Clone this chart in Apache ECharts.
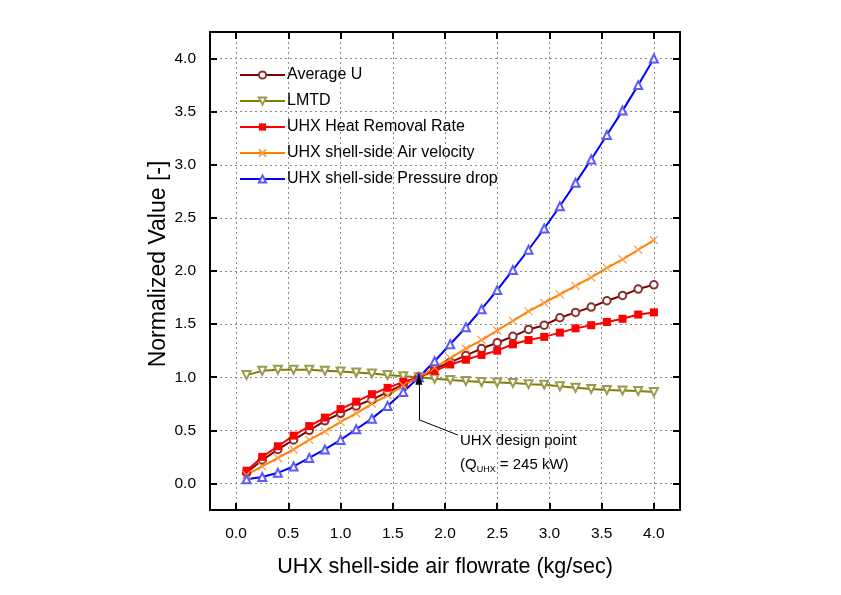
<!DOCTYPE html>
<html>
<head>
<meta charset="utf-8">
<script src="https://cdn.jsdelivr.net/npm/echarts@6/dist/echarts.min.js"></script>
<style>html,body{margin:0;padding:0;background:#fff}#c{width:841px;height:595px}</style>
</head>
<body>
<div id="c"></div>
<script>
const flowrate = [0.1,0.25,0.4,0.55,0.7,0.85,1.0,1.15,1.3,1.45,1.6,1.75,1.9,2.05,2.2,2.35,2.5,2.65,2.8,2.95,3.1,3.25,3.4,3.55,3.7,3.85,4.0];
const averageU = [0.10,0.22,0.32,0.41,0.50,0.59,0.66,0.73,0.79,0.86,0.93,1.0,1.08,1.14,1.205,1.27,1.325,1.385,1.45,1.49,1.56,1.61,1.66,1.72,1.77,1.83,1.87];
const lmtd = [1.02,1.06,1.07,1.07,1.07,1.06,1.055,1.045,1.035,1.02,1.01,1.0,0.985,0.975,0.965,0.955,0.95,0.945,0.935,0.93,0.915,0.90,0.89,0.88,0.875,0.87,0.86];
const heatRemoval = [0.12,0.25,0.35,0.45,0.54,0.62,0.70,0.77,0.84,0.90,0.955,1.0,1.06,1.12,1.165,1.21,1.25,1.31,1.35,1.38,1.42,1.46,1.49,1.52,1.55,1.59,1.61];
const airVelocity = [0.08,0.16,0.24,0.32,0.41,0.49,0.58,0.66,0.75,0.83,0.92,1.0,1.09,1.18,1.27,1.35,1.44,1.53,1.62,1.70,1.78,1.86,1.94,2.03,2.11,2.20,2.29];
const pressureDrop = [0.04,0.06,0.10,0.16,0.24,0.32,0.41,0.51,0.61,0.73,0.86,1.0,1.15,1.31,1.47,1.64,1.82,2.01,2.20,2.40,2.61,2.83,3.05,3.28,3.51,3.75,4.0];
const xTickValues = [0,0.5,1.0,1.5,2.0,2.5,3.0,3.5,4.0];
const yTickValues = [0,0.5,1.0,1.5,2.0,2.5,3.0,3.5,4.0];
const seriesNames = ['Average U','LMTD','UHX Heat Removal Rate','UHX shell-side Air velocity','UHX shell-side Pressure drop'];
const designPoint = [1.75, 1.0];

const FONT = '"Liberation Sans", Arial, sans-serif';
const pairs = ys => flowrate.map((x,i)=>[x, ys[i]]);

const baseX = {type:'value', min:-0.25, max:4.25, interval:0.25};
const baseY = {type:'value', min:-0.25, max:4.25, interval:0.25};
const axLine = {show:true, onZero:false, lineStyle:{color:'#000', width:2}};
const tick = (vals)=>({show:true, inside:true, length:7, lineStyle:{color:'#000', width:2}, customValues:vals});

const chart = echarts.init(document.getElementById('c'), null, {renderer:'canvas'});
chart.setOption({
  animation:false,
  backgroundColor:'#fff',
  grid:{left:210, right:161, top:32, bottom:85, containLabel:false},
  legend:{
    orient:'vertical', left:234, top:62, itemWidth:45, itemHeight:9, itemGap:10,
    textStyle:{fontFamily:FONT, fontSize:16, color:'#000', padding:[0,0,0,-3]},
    data:seriesNames
  },
  xAxis:[
    Object.assign({}, baseX, {
      position:'bottom', axisLine:axLine, axisTick:tick(xTickValues),
      axisLabel:{show:true, customValues:xTickValues, formatter:v=>v.toFixed(1), margin:16, fontFamily:FONT, fontSize:15.5, color:'#000'},
      splitLine:{show:true, lineStyle:{color:'#8a8a8a', type:[2,3], width:1}},
      name:'UHX shell-side air flowrate (kg/sec)', nameLocation:'middle', nameGap:46,
      nameTextStyle:{fontFamily:FONT, fontSize:21.5, color:'#000'}
    }),
    Object.assign({}, baseX, {
      position:'top', axisLine:axLine, axisTick:tick(xTickValues),
      axisLabel:{show:false}, splitLine:{show:false}
    })
  ],
  yAxis:[
    Object.assign({}, baseY, {
      position:'left', axisLine:axLine, axisTick:tick(yTickValues),
      axisLabel:{show:true, customValues:yTickValues, formatter:v=>v.toFixed(1), margin:14, fontFamily:FONT, fontSize:15.5, color:'#000'},
      splitLine:{show:true, lineStyle:{color:'#8a8a8a', type:[2,3], width:1}}
    }),
    Object.assign({}, baseY, {
      position:'right', axisLine:axLine, axisTick:tick(yTickValues),
      axisLabel:{show:false}, splitLine:{show:false}
    })
  ],
  series:[
    {name:seriesNames[0], type:'line', data:pairs(averageU), symbol:'emptyCircle', symbolSize:7.5,
     lineStyle:{color:'#800000', width:2}, itemStyle:{color:'#8a3030', borderWidth:1}},
    {name:seriesNames[1], type:'line', data:pairs(lmtd), symbol:'emptyTriangle', symbolRotate:180, symbolSize:8,
     lineStyle:{color:'#808000', width:2}, itemStyle:{color:'#9a9a50', borderWidth:1}},
    {name:seriesNames[2], type:'line', data:pairs(heatRemoval), symbol:'rect', symbolSize:8,
     lineStyle:{color:'#ff0000', width:2}, itemStyle:{color:'#ff0000'}},
    {name:seriesNames[3], type:'line', data:pairs(airVelocity), symbol:'path://M0 0L10 10M10 0L0 10', symbolSize:8,
     lineStyle:{color:'#ff8000', width:2}, itemStyle:{color:'#ff9a40', borderColor:'#ff9a40', borderWidth:1.2}},
    {name:seriesNames[4], type:'line', data:pairs(pressureDrop), symbol:'emptyTriangle', symbolSize:8,
     lineStyle:{color:'#0000ff', width:2}, itemStyle:{color:'#5a5aff', borderWidth:1},
     markLine:{
       silent:true, symbol:['none','none'], animation:false,
       label:{show:false},
       lineStyle:{color:'#000', width:1, type:'solid'},
       data:[
         [{coord:[designPoint[0],0.60], symbol:'none'},{coord:[designPoint[0],designPoint[1]-0.015], symbol:'triangle', symbolSize:[7,12]}],
         [{coord:[designPoint[0],0.60], symbol:'none'},{coord:[2.125,0.455], symbol:'none'}]
       ]
     }
    }
  ],
  graphic:[
    {type:'text', x:159, y:264, rotation:Math.PI/2, style:{text:'Normalized Value [-]', font:'23px '+FONT, fill:'#000', align:'center', verticalAlign:'middle'}},
    {type:'text', left:460, top:433, style:{text:'UHX design point', font:'15px '+FONT, fill:'#000'}},
    {type:'text', left:460, top:455, style:{
      text:'{a|(Q}{s|UHX}{a| = 245 kW)}',
      rich:{a:{fontFamily:FONT, fontSize:15, fill:'#000', color:'#000', lineHeight:18},
            s:{fontFamily:FONT, fontSize:9, fill:'#000', color:'#000', padding:[10,0,0,0], lineHeight:18}}
    }}
  ]
});
</script>
</body>
</html>
